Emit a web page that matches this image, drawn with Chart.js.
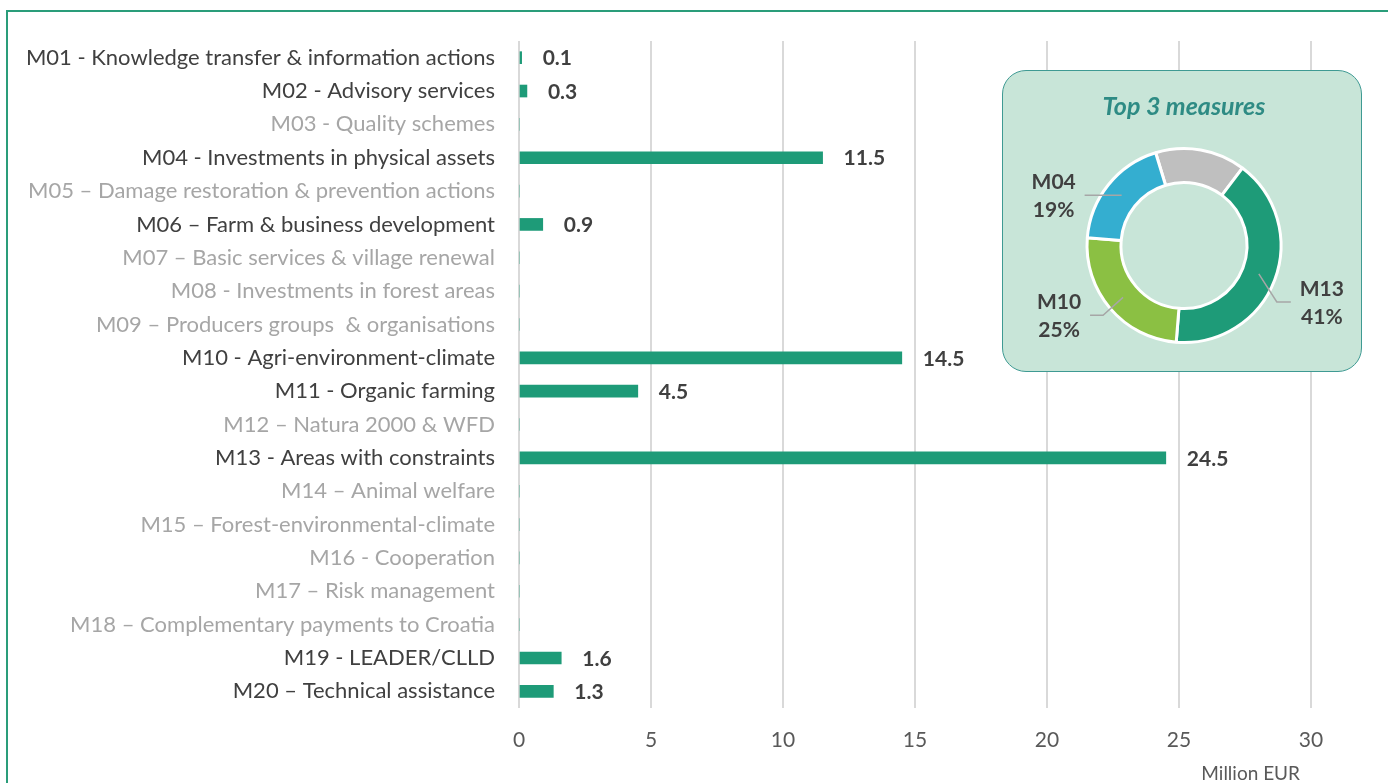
<!DOCTYPE html>
<html>
<head>
<meta charset="utf-8">
<title>RDP measures</title>
<script src="https://cdn.jsdelivr.net/npm/chart.js@4.4.1/dist/chart.umd.min.js"></script>
<style>
  html, body { margin: 0; padding: 0; background: #fff; }
  .page { position: relative; width: 1388px; height: 783px; overflow: hidden; }
  .frame { position: absolute; left: 6px; top: 10px; right: -20px; bottom: -20px; border: 2px solid #2a9d7a; }
  #barChart { position: absolute; left: 0; top: 0; }
  .inset {
    position: absolute; left: 1002px; top: 70px; width: 360px; height: 302px;
    box-sizing: border-box; border: 1.5px solid #3f9a93; border-radius: 24px;
    background: #c8e5d8;
  }
  #donutChart { position: absolute; left: 0; top: 0; }
</style>
</head>
<body>
<div class="page">
  <div class="frame"></div>
  <canvas id="barChart" width="1388" height="783"></canvas>
  <div class="inset">
    <canvas id="donutChart" width="357" height="299"></canvas>
  </div>
</div>

<script>
// categories (measures) and spending, million EUR
const categories = [
  'M01 - Knowledge transfer & information actions',
  'M02 - Advisory services',
  'M03 - Quality schemes',
  'M04 - Investments in physical assets',
  'M05 \u2013 Damage restoration & prevention actions',
  'M06 \u2013 Farm & business development',
  'M07 \u2013 Basic services & village renewal',
  'M08 - Investments in forest areas',
  'M09 \u2013 Producers groups  & organisations',
  'M10 - Agri-environment-climate',
  'M11 - Organic farming',
  'M12 \u2013 Natura 2000 & WFD',
  'M13 - Areas with constraints',
  'M14 \u2013 Animal welfare',
  'M15 \u2013 Forest-environmental-climate',
  'M16 - Cooperation',
  'M17 \u2013 Risk management',
  'M18 \u2013 Complementary payments to Croatia',
  'M19 - LEADER/CLLD',
  'M20 \u2013 Technical assistance'
];
const values = [0.1, 0.3, 0, 11.5, 0, 0.9, 0, 0, 0, 14.5, 4.5, 0, 24.5, 0, 0, 0, 0, 0, 1.6, 1.3];
const xMin = 0;
const xMax = 30;
const xStep = 5;
const xTitle = 'Million EUR';

// inset doughnut: top 3 measures (share of total, %)
const donutLabels = ['Other', 'M13', 'M10', 'M04'];
const donutValues = [15, 41, 25, 19];
const donutTitle = 'Top 3 measures';

const FONT = 'Lato, "Open Sans", sans-serif';
const BAR_COLOR = '#1e9b78';
const DARK = '#404040';
const MUTED = '#a6a6a6';
const AXIS_GREY = '#595959';

// value labels at the end of each bar, plus the unit under the axis
const barValueLabels = {
  id: 'barValueLabels',
  afterDatasetsDraw(chart) {
    const ctx = chart.ctx;
    const meta = chart.getDatasetMeta(0);
    ctx.save();
    ctx.font = 'bold 21px ' + FONT;
    ctx.fillStyle = DARK;
    ctx.textAlign = 'left';
    ctx.textBaseline = 'middle';
    meta.data.forEach((bar, i) => {
      const v = chart.data.datasets[0].data[i];
      if (!v) return;
      ctx.fillText(v.toFixed(1), bar.x + 21, bar.y + 1);
    });

    const xs = chart.scales.x;
    ctx.font = '19px ' + FONT;
    ctx.fillStyle = AXIS_GREY;
    ctx.textAlign = 'right';
    ctx.fillText(xTitle, xs.right - 11, xs.bottom - 9);
    ctx.restore();
  }
};

new Chart(document.getElementById('barChart'), {
  type: 'bar',
  data: {
    labels: categories,
    datasets: [{
      data: values,
      backgroundColor: BAR_COLOR,
      borderWidth: 0,
      barThickness: 12
    }]
  },
  options: {
    indexAxis: 'y',
    responsive: false,
    animation: false,
    events: [],
    layout: { padding: { left: 0, right: 77, top: 41, bottom: 0 } },
    plugins: {
      legend: { display: false },
      tooltip: { enabled: false }
    },
    scales: {
      x: {
        min: xMin,
        max: xMax,
        afterFit: s => { s.height = 75; },
        ticks: {
          stepSize: xStep,
          padding: 20,
          color: AXIS_GREY,
          font: { family: FONT, size: 21 }
        },
        grid: { color: '#d9d9d9', lineWidth: 2, drawTicks: false },
        border: { display: false }
      },
      y: {
        afterFit: s => { s.width = 519; },
        ticks: {
          padding: 24,
          autoSkip: false,
          color: c => values[c.index] ? DARK : MUTED,
          font: { family: FONT, size: 22 }
        },
        grid: { display: false, drawTicks: false },
        border: { display: false }
      }
    }
  },
  plugins: [barValueLabels]
});

// leader lines + labels for the doughnut slices
const donutLeaders = {
  id: 'donutLeaders',
  afterDatasetsDraw(chart, args, opts) {
    const ctx = chart.ctx;
    const meta = chart.getDatasetMeta(0);
    ctx.save();
    meta.data.forEach((arc, i) => {
      const lead = opts.leaders[donutLabels[i]];
      if (!lead) return;
      const p = arc.getCenterPoint();
      const ex = p.x + lead.elbow[0];
      const ey = p.y + lead.elbow[1];
      const endX = ex + lead.tail;
      ctx.strokeStyle = '#a6a6a6';
      ctx.lineWidth = 1.5;
      ctx.beginPath();
      ctx.moveTo(p.x, p.y);
      ctx.lineTo(ex, ey);
      ctx.lineTo(endX, ey);
      ctx.stroke();
      const tx = endX + (lead.tail < 0 ? -31 : 31);
      ctx.fillStyle = DARK;
      ctx.font = 'bold 21px ' + FONT;
      ctx.textAlign = 'center';
      ctx.textBaseline = 'middle';
      ctx.fillText(donutLabels[i], tx, ey - 13);
      ctx.fillText(donutValues[i] + '%', tx, ey + 15);
    });
    ctx.restore();
  }
};

new Chart(document.getElementById('donutChart'), {
  type: 'doughnut',
  data: {
    labels: donutLabels,
    datasets: [{
      data: donutValues,
      backgroundColor: ['#bfbfbf', '#1e9b78', '#8bc043', '#34aed0'],
      borderColor: '#ffffff',
      borderWidth: 3,
      hoverOffset: 0
    }]
  },
  options: {
    responsive: false,
    animation: false,
    events: [],
    rotation: -17,
    cutout: '65%',
    layout: { padding: { left: 5, right: 0, top: 0, bottom: 26 } },
    plugins: {
      legend: { display: false },
      tooltip: { enabled: false },
      title: {
        display: true,
        text: donutTitle,
        color: '#2e8b84',
        font: { family: FONT, size: 25, weight: 'bold', style: 'italic' },
        padding: { top: 21, bottom: 25 }
      },
      donutLeaders: {
        leaders: {
          M04: { elbow: [0, 0], tail: -37 },
          M10: { elbow: [-20, 18], tail: -13 },
          M13: { elbow: [18, 28], tail: 14 }
        }
      }
    }
  },
  plugins: [donutLeaders]
});
</script>
</body>
</html>
